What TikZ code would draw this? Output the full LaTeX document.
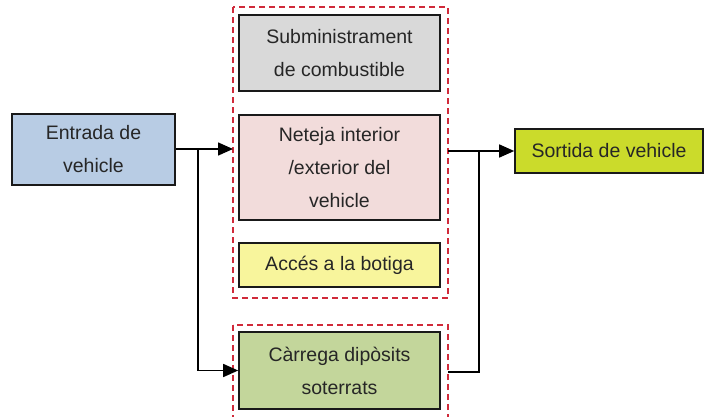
\documentclass[tikz,border=0pt]{standalone}
\usepackage{fontspec}
\setmainfont{Liberation Sans}
\usepackage{xcolor}
\usetikzlibrary{arrows.meta,calc}

\definecolor{entradablue}{HTML}{B8CCE4}
\definecolor{subgray}{HTML}{D9D9D9}
\definecolor{netejapink}{HTML}{F2DCDB}
\definecolor{accesyellow}{HTML}{F8F59C}
\definecolor{carregagreen}{HTML}{C3D69B}
\definecolor{sortidalime}{HTML}{CBDB2B}
\definecolor{grpred}{HTML}{D02A3A}

\tikzset{
    procbox/.style={draw=black!90, line width=1.6pt, align=center, inner sep=0pt,
        text=black!85, font=\fontsize{19.5}{33}\selectfont},
    grpbox/.style={draw=grpred, line width=1.4pt, dash pattern=on 6pt off 4pt},
    flow/.style={line width=1.5pt, -{Triangle[length=15pt,width=13pt]}},
    link/.style={line width=1.5pt}
}

\begin{document}
\begin{tikzpicture}[x=1pt,y=-1pt]
        \useasboundingbox (0, 0) rectangle (704, 416);
        \clip (0, 0) rectangle (704, 416);
        \node [procbox, fill=entradablue, minimum width=163pt, minimum height=71pt] (entrada) at (93.5, 149.5) {Entrada de\\vehicle};
        \node [procbox, fill=subgray, minimum width=201pt, minimum height=76pt] (subm) at (339.5, 53) {Subministrament\\de combustible};
        \node [procbox, fill=netejapink, minimum width=201pt, minimum height=105pt] (neteja) at (339.5, 167.5) {Neteja interior\\/exterior del\\vehicle};
        \node [procbox, fill=accesyellow, minimum width=201pt, minimum height=44pt] (acces) at (339.5, 265) {Accés a la botiga};
        \node [procbox, fill=carregagreen, minimum width=201pt, minimum height=77pt] (carrega) at (339.5, 370.5) {Càrrega dipòsits\\soterrats};
        \node [procbox, fill=sortidalime, minimum width=188pt, minimum height=44pt] (sortida) at (609, 151) {Sortida de vehicle};
        \draw [grpbox] (233, 7) rectangle (448, 298);
        \draw [grpbox] (233, 325) rectangle (448, 430);
        \coordinate (grpin) at (233, 149);
        \coordinate (grpout) at (448, 151);
        \coordinate (carout) at (448, 372);
        \coordinate (jin) at (198, 149);
        \coordinate (jout) at (479, 151);
        \draw [flow] (entrada.east |- jin) -- (jin) -- (grpin);
        \draw [flow] (jin) -- (jin |- carrega.west) -- (carrega.west);
        \draw [flow] (grpout) -- (jout) -- (sortida.west);
        \draw [link] (carout) -- (jout |- carout) -- (jout);
    \end{tikzpicture}
\end{document}
